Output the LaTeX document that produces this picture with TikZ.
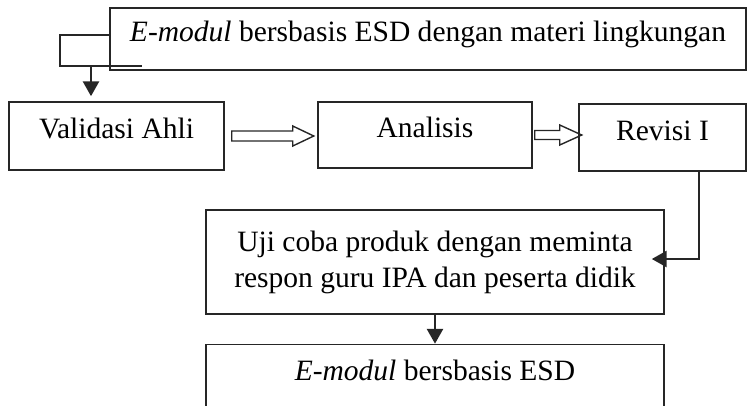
\documentclass[tikz,border=0pt]{standalone}
\usepackage{fontspec}
\setmainfont{Liberation Serif}
\usetikzlibrary{arrows.meta,calc}

\tikzset{
    box/.style={draw=black!85, line width=0.85pt, inner sep=0pt, align=center,
        font=\fontsize{16.8}{20.5}\selectfont},
    line box/.style={box, text height=0.7em, text depth=0.4em},
    flow/.style={draw=black!85, line width=1.6pt, -{Triangle[width=0.32cm,length=0.3cm]}},
    thin line/.style={draw=black!85, line width=0.8pt}
}

\begin{document}
\begin{tikzpicture}

            % the frame
            \path[use as bounding box, clip] (0, 0) rectangle (14.94, -8.1);

            % the boxes
            \node[line box, minimum width=12.72cm, minimum height=1.24cm] (modul) at (8.56, -0.78)
                {\textit{E-modul} bersbasis ESD dengan materi lingkungan};
            \node[line box, minimum width=4.30cm, minimum height=1.36cm] (validasi) at (2.33, -2.72) {Validasi Ahli};
            \node[line box, minimum width=4.28cm, minimum height=1.32cm] (analisis) at (8.50, -2.70) {Analisis};
            \node[line box, minimum width=3.34cm, minimum height=1.34cm] (revisi) at (13.25, -2.75) {Revisi I};
            \node[box, minimum width=9.16cm, minimum height=2.08cm] (uji) at (8.70, -5.24)
                {Uji coba produk dengan meminta\\respon guru IPA dan peserta didik};
            \node[line box, minimum width=9.16cm, minimum height=1.34cm] (hasil) at (8.70, -7.56)
                {\textit{E-modul} bersbasis ESD};

            % the loop on the left
            \coordinate (bend) at (1.2, -1.32);
            \coordinate (tail) at (2.84, -1.32);
            \coordinate (drop) at (1.82, -1.32);
            \draw[thin line] ([yshift=0.08cm]modul.west) -| (bend) -- (tail);
            \draw[flow, shorten >=0.1cm] (drop) -- (drop |- validasi.north);

            % hollow arrows
            \draw[thin line] ($(validasi.east)+(0.14,0.1)$) -- ++(1.22,0) -- ++(0,0.1) -- ++(0.42,-0.2)
                -- ++(-0.42,-0.2) -- ++(0,0.1) -- ++(-1.22,0) -- cycle;
            \draw[thin line] ($(analisis.east)+(0.04,0.09)$) -- ++(0.5,0) -- ++(0,0.11) -- ++(0.44,-0.2)
                -- ++(-0.44,-0.2) -- ++(0,0.11) -- ++(-0.5,0) -- cycle;

            % down to the test
            \draw[flow, shorten >=-0.26cm] ([xshift=0.73cm]revisi.south) |- ([yshift=0.06cm]uji.east);
            \draw[flow] (uji.south) -- (hasil.north);

\end{tikzpicture}
\end{document}
